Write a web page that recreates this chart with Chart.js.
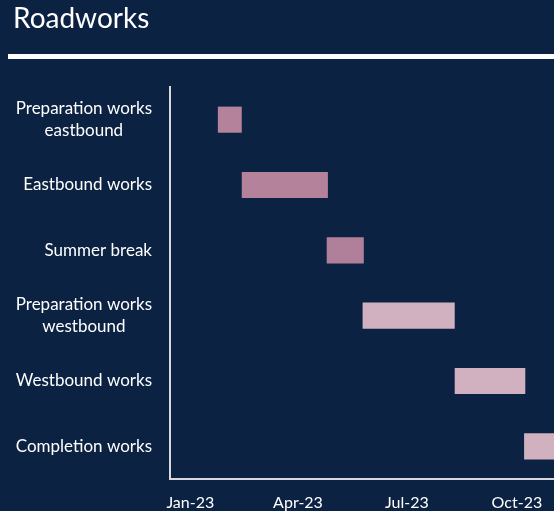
<!doctype html>
<html>
<head>
	<meta charset="UTF-8">
	<title>Roadworks</title>
	<script src="https://cdn.jsdelivr.net/npm/chart.js@4.4.0/dist/chart.umd.min.js"></script>
	<style>
		html, body { margin: 0; padding: 0; background: #0c2242; }
		#canvas-holder { width: 554px; height: 511px; }
	</style>
</head>
<body>
<div id="canvas-holder">
	<canvas id="chart-area" width="554" height="511"></canvas>
</div>
<script>
	// data
	var taskNames = [['Preparation works', 'eastbound'], 'Eastbound works', 'Summer break',
		['Preparation works', 'westbound'], 'Westbound works', 'Completion works'];
	var startDates = ['2023-01-24', '2023-02-13', '2023-04-25', '2023-05-25', '2023-08-10', '2023-10-07'];
	var endDates = ['2023-02-13', '2023-04-26', '2023-05-26', '2023-08-10', '2023-10-08', '2023-11-30'];
	var tickDates = ['2023-01-01', '2023-04-01', '2023-07-01', '2023-10-01'];
	var tickLabels = ['Jan-23', 'Apr-23', 'Jul-23', 'Oct-23'];
	var axisStart = '2022-12-15';
	var axisEnd = '2023-11-01';

	var barColours = ['#b4829b', '#b4829b', '#b0809a', '#d1b1c0', '#d1b1c0', '#d1b1c0'];
	var navy = '#0c2242';
	var textFont = 'Lato, "Open Sans", sans-serif';

	// days counted from 1 Jan 2023
	function dayNo(s) {
		return (Date.parse(s) - Date.parse('2023-01-01')) / 86400000;
	}

	var ranges = [];
	for (var i = 0; i < startDates.length; i++) {
		ranges.push([dayNo(startDates[i]), dayNo(endDates[i])]);
	}

	var backgroundPlugin = {
		id: 'background',
		beforeDraw: function (chart) {
			var ctx = chart.ctx;
			ctx.save();
			ctx.fillStyle = navy;
			ctx.fillRect(0, 0, chart.width, chart.height);
			// title and the rule under it
			ctx.fillStyle = '#ffffff';
			ctx.font = '28px ' + textFont;
			ctx.textAlign = 'left';
			ctx.textBaseline = 'alphabetic';
			ctx.fillText('Roadworks', 13, 28);
			ctx.fillRect(8, 54, chart.width - 8, 5);
			ctx.restore();
		}
	};

	// category labels: right aligned block, wrapped lines centred in it
	var taskLabelPlugin = {
		id: 'taskLabels',
		afterDraw: function (chart) {
			var ctx = chart.ctx;
			var yScale = chart.scales.y;
			ctx.save();
			ctx.font = '17px ' + textFont;
			ctx.fillStyle = '#ffffff';
			ctx.textAlign = 'center';
			ctx.textBaseline = 'middle';
			taskNames.forEach(function (name, idx) {
				var lines = Array.isArray(name) ? name : [name];
				var w = 0;
				lines.forEach(function (l) { w = Math.max(w, ctx.measureText(l).width); });
				var cy = yScale.getPixelForValue(idx);
				lines.forEach(function (l, j) {
					ctx.fillText(l, 152 - w / 2, cy + (j - (lines.length - 1) / 2) * 22);
				});
			});
			ctx.restore();
		}
	};

	var config = {
		type: 'bar',
		data: {
			labels: taskNames,
			datasets: [{
				data: ranges,
				backgroundColor: barColours,
				borderWidth: 0,
				barPercentage: 0.4,
				categoryPercentage: 1
			}]
		},
		options: {
			indexAxis: 'y',
			responsive: false,
			animation: false,
			layout: { padding: { top: 87, left: 0, right: 0, bottom: 0 } },
			plugins: {
				legend: { display: false },
				tooltip: { enabled: false }
			},
			scales: {
				x: {
					type: 'linear',
					min: dayNo(axisStart),
					max: dayNo(axisEnd),
					grid: { display: false, drawTicks: false },
					border: { display: true, color: '#d9d9d9', width: 2 },
					afterBuildTicks: function (scale) {
						scale.ticks = tickDates.map(function (d) { return { value: dayNo(d) }; });
					},
					ticks: {
						color: '#ffffff',
						font: { family: textFont, size: 16 },
						padding: 14,
						maxRotation: 0,
						callback: function (v, idx) { return tickLabels[idx]; }
					},
					afterFit: function (scale) {
						scale.height = 32;
						scale.paddingRight = 0;
					}
				},
				y: {
					grid: { display: false, drawTicks: false },
					border: { display: true, color: '#d9d9d9', width: 2 },
					ticks: { display: false },
					afterFit: function (scale) { scale.width = 170; }
				}
			}
		},
		plugins: [backgroundPlugin, taskLabelPlugin]
	};

	window.onload = function () {
		var ctx = document.getElementById('chart-area').getContext('2d');
		window.myGantt = new Chart(ctx, config);
	};
</script>
</body>
</html>
